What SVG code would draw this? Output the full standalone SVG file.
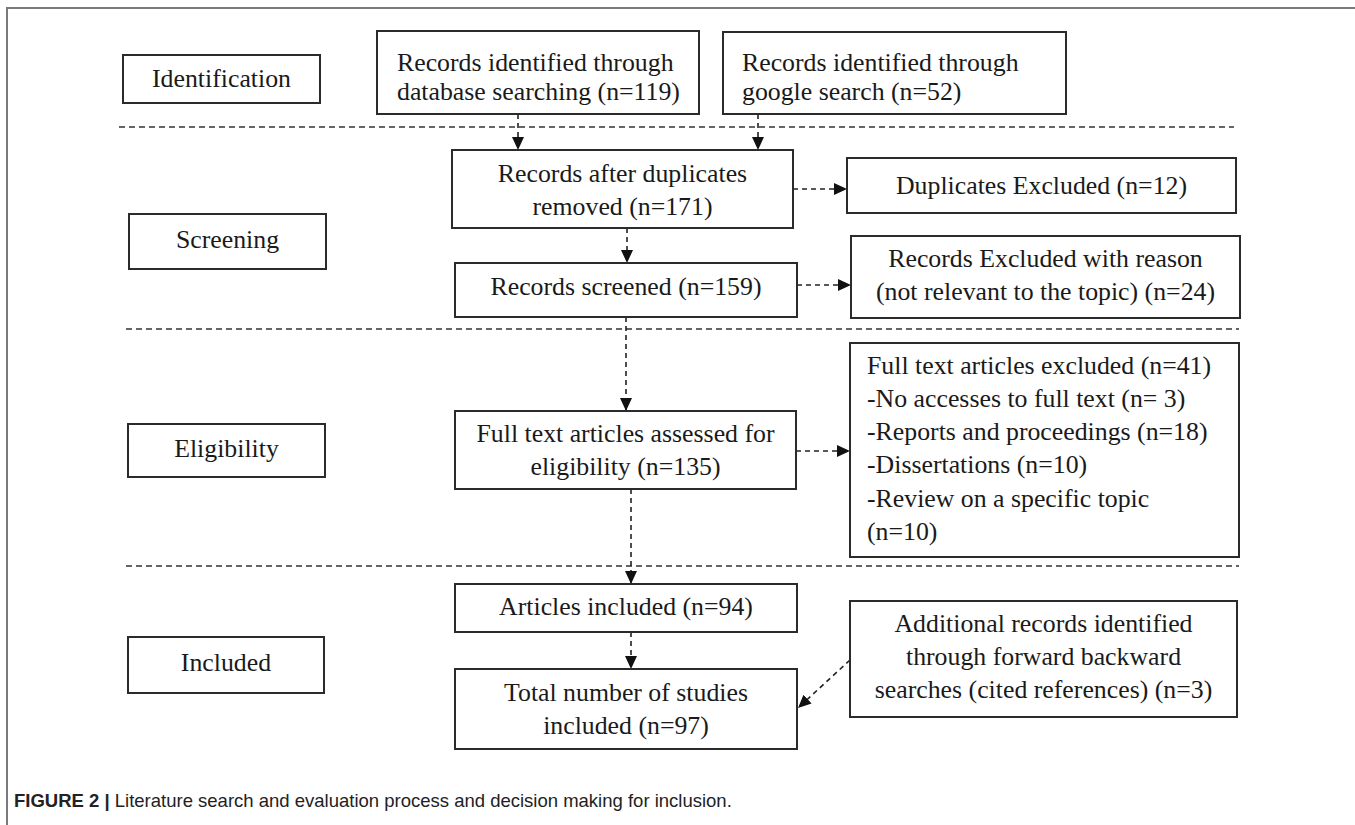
<svg xmlns="http://www.w3.org/2000/svg" width="1355" height="825" viewBox="0 0 1355 825">
<style>
.box{fill:#fff;stroke:#2b2b2b;stroke-width:2}
.t{font-family:"Liberation Serif","Times New Roman",serif;font-size:25.8px;fill:#1a1a1a}
.c{text-anchor:middle}
.sep{stroke:#333;stroke-width:1.6;stroke-dasharray:6 4;fill:none}
.con{stroke:#222;stroke-width:1.6;stroke-dasharray:5 4;fill:none}
.frame{stroke:#7a7a7a;stroke-width:2;fill:none}
.cap{font-family:"Liberation Sans",Arial,sans-serif;font-size:18.5px;fill:#222}
</style>
<defs>
<marker id="ah" markerUnits="userSpaceOnUse" markerWidth="13" markerHeight="12" refX="13" refY="6" orient="auto">
<path d="M0,0 L13,6 L0,12 z" fill="#111"/>
</marker>
</defs>
<rect width="1355" height="825" fill="#fff"/>
<path class="frame" d="M7,825 V8 H1355"/>

<g id="separators">
<line class="sep" x1="119" y1="127" x2="1234" y2="127"/>
<line class="sep" x1="126" y1="329" x2="1239" y2="329"/>
<line class="sep" x1="126" y1="566" x2="1239" y2="566"/>
</g>

<g id="connectors">
<line class="con" x1="518" y1="114" x2="518" y2="150" marker-end="url(#ah)"/>
<line class="con" x1="758" y1="114" x2="758" y2="150" marker-end="url(#ah)"/>
<line class="con" x1="793" y1="189" x2="847" y2="189" marker-end="url(#ah)"/>
<line class="con" x1="627" y1="228" x2="627" y2="263" marker-end="url(#ah)"/>
<line class="con" x1="797" y1="285" x2="851" y2="285" marker-end="url(#ah)"/>
<line class="con" x1="626" y1="317" x2="626" y2="411" marker-end="url(#ah)"/>
<line class="con" x1="796" y1="451" x2="850" y2="451" marker-end="url(#ah)"/>
<line class="con" x1="631" y1="489" x2="631" y2="584" marker-end="url(#ah)"/>
<line class="con" x1="631" y1="632" x2="631" y2="669" marker-end="url(#ah)"/>
<line class="con" x1="850" y1="660" x2="798" y2="708" marker-end="url(#ah)"/>
</g>

<g id="identification">
<rect class="box" x="123" y="55" width="197" height="48"/>
<text class="t c" x="221.5" y="87">Identification</text>
</g>
<g id="screening">
<rect class="box" x="129" y="214" width="197" height="55"/>
<text class="t c" x="227.5" y="248">Screening</text>
</g>
<g id="eligibility">
<rect class="box" x="128" y="424" width="197" height="53"/>
<text class="t c" x="226.5" y="457">Eligibility</text>
</g>
<g id="included">
<rect class="box" x="128" y="637" width="196" height="56"/>
<text class="t c" x="226" y="671">Included</text>
</g>

<g id="db-search">
<rect class="box" x="377" y="31" width="322" height="83"/>
<text class="t" x="397" y="71">Records identified through</text>
<text class="t" x="397" y="100">database searching (n=119)</text>
</g>
<g id="google-search">
<rect class="box" x="723" y="32" width="343" height="82"/>
<text class="t" x="742" y="71">Records identified through</text>
<text class="t" x="742" y="100">google search (n=52)</text>
</g>
<g id="after-duplicates">
<rect class="box" x="452" y="150" width="341" height="78"/>
<text class="t c" x="622.5" y="182">Records after duplicates</text>
<text class="t c" x="622.5" y="215">removed (n=171)</text>
</g>
<g id="duplicates-excluded">
<rect class="box" x="847" y="158" width="389" height="55"/>
<text class="t c" x="1041.5" y="194">Duplicates Excluded (n=12)</text>
</g>
<g id="records-screened">
<rect class="box" x="455" y="263" width="342" height="54"/>
<text class="t c" x="626" y="295">Records screened (n=159)</text>
</g>
<g id="excluded-reason">
<rect class="box" x="851" y="236" width="389" height="82"/>
<text class="t c" x="1045.5" y="267">Records Excluded with reason</text>
<text class="t c" x="1045.5" y="300">(not relevant to the topic) (n=24)</text>
</g>
<g id="full-text-assessed">
<rect class="box" x="455" y="411" width="341" height="78"/>
<text class="t c" x="625.5" y="442">Full text articles assessed for</text>
<text class="t c" x="625.5" y="475">eligibility (n=135)</text>
</g>
<g id="full-text-excluded">
<rect class="box" x="850" y="343" width="389" height="214"/>
<text class="t" x="867" y="374">Full text articles excluded (n=41)</text>
<text class="t" x="867" y="407">-No accesses to full text (n= 3)</text>
<text class="t" x="867" y="440">-Reports and proceedings (n=18)</text>
<text class="t" x="867" y="473">-Dissertations (n=10)</text>
<text class="t" x="867" y="507">-Review on a specific topic</text>
<text class="t" x="867" y="540">(n=10)</text>
</g>
<g id="articles-included">
<rect class="box" x="455" y="584" width="342" height="48"/>
<text class="t c" x="626" y="615">Articles included (n=94)</text>
</g>
<g id="total-included">
<rect class="box" x="455" y="669" width="342" height="80"/>
<text class="t c" x="626" y="701">Total number of studies</text>
<text class="t c" x="626" y="734">included (n=97)</text>
</g>
<g id="additional-records">
<rect class="box" x="850" y="601" width="387" height="116"/>
<text class="t c" x="1043.5" y="632">Additional records identified</text>
<text class="t c" x="1043.5" y="665">through forward backward</text>
<text class="t c" x="1043.5" y="698">searches (cited references) (n=3)</text>
</g>

<text class="cap" x="14" y="807"><tspan font-weight="bold">FIGURE 2 |</tspan> Literature search and evaluation process and decision making for inclusion.</text>
</svg>
